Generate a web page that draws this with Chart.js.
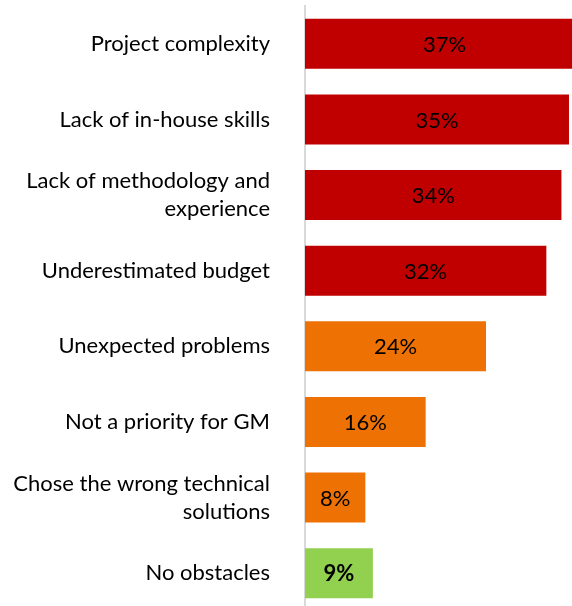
<!DOCTYPE html>
<html>
<head>
<meta charset="utf-8">
<script src="https://cdn.jsdelivr.net/npm/chart.js@4/dist/chart.umd.min.js"></script>
<style>
  html, body { margin: 0; padding: 0; background: #fff; overflow: hidden; }
  #wrap { width: 572px; height: 606px; overflow: hidden; }
  canvas { display: block; }
</style>
</head>
<body>
<div id="wrap"><canvas id="chart" width="572" height="611"></canvas></div>
<script>
// Obstacles data (percent of respondents)
const categories = [
  "Project complexity",
  "Lack of in-house skills",
  ["Lack of methodology and", "experience"],
  "Underestimated budget",
  "Unexpected problems",
  "Not a priority for GM",
  ["Chose the wrong technical", "solutions"],
  "No obstacles",
];
const values = [37, 35, 34, 32, 24, 16, 8, 9];
const valueLabels = ["37%", "35%", "34%", "32%", "24%", "16%", "8%", "9%"];
const barColors = [
  "#C00000", "#C00000", "#C00000", "#C00000",
  "#EE7203", "#EE7203", "#EE7203",
  "#92D050",
];
const boldLabels = [false, false, false, false, false, false, false, true];

const FONT = "Lato, Carlito, 'Open Sans', sans-serif";

// Draw value labels centred on each bar (full bar, even if clipped)
const valueLabelPlugin = {
  id: "valueLabels",
  afterDatasetsDraw(chart) {
    const ctx = chart.ctx;
    const meta = chart.getDatasetMeta(0);
    const xs = chart.scales.x;
    ctx.save();
    ctx.fillStyle = "#000";
    ctx.textAlign = "center";
    ctx.textBaseline = "middle";
    meta.data.forEach((bar, i) => {
      const x0 = xs.getPixelForValue(0);
      const x1 = xs.getPixelForValue(values[i]);
      ctx.font = (boldLabels[i] ? "bold " : "") + "22px " + FONT;
      ctx.fillText(valueLabels[i], (x0 + x1) / 2, bar.y + 1);
    });
    ctx.restore();
  },
};

new Chart(document.getElementById("chart"), {
  type: "bar",
  data: {
    labels: categories,
    datasets: [{
      data: values,
      backgroundColor: barColors,
      borderWidth: 0,
      barPercentage: 0.662,
      categoryPercentage: 1,
    }],
  },
  options: {
    indexAxis: "y",
    responsive: false,
    animation: false,
    layout: { padding: { top: 6, bottom: 0, left: 0, right: 0 } },
    plugins: {
      legend: { display: false },
      tooltip: { enabled: false },
    },
    scales: {
      x: {
        display: false,
        min: 0,
        max: 35.4,
      },
      y: {
        afterFit(scale) {
          scale.width = 305;
          // keep label overhang from shrinking the plot area
          scale.paddingTop = 0;
          scale.paddingBottom = 0;
        },
        grid: { display: false, drawTicks: false },
        border: { display: true, color: "#D9D9D9", width: 2 },
        ticks: {
          padding: 35,
          color: "#000",
          font: { family: FONT, size: 22, lineHeight: 1.27 },
        },
      },
    },
  },
  plugins: [valueLabelPlugin],
});
</script>
</body>
</html>
